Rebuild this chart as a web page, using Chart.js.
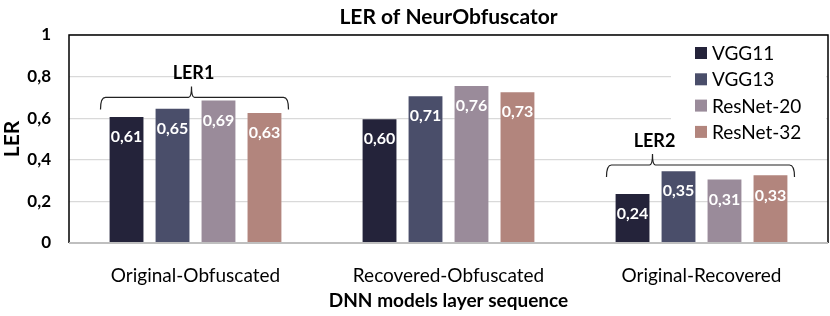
<!DOCTYPE html>
<html>
<head>
<meta charset="utf-8">
<script src="https://cdn.jsdelivr.net/npm/chart.js@4/dist/chart.umd.min.js"></script>
<style>
  html, body { margin: 0; padding: 0; background: #fff; }
  #wrap { width: 830px; height: 316px; }
</style>
</head>
<body>
<div id="wrap"><canvas id="chart-1" width="830" height="316"></canvas></div>
<script>
// donnees du graphique
const categories = ['Original-Obfuscated', 'Recovered-Obfuscated', 'Original-Recovered'];
const models = ['VGG11', 'VGG13', 'ResNet-20', 'ResNet-32'];
const vgg11 = [0.61, 0.60, 0.24];
const vgg13 = [0.65, 0.71, 0.35];
const resnet20 = [0.69, 0.76, 0.31];
const resnet32 = [0.63, 0.73, 0.33];
const yTicks = [0, 0.2, 0.4, 0.6, 0.8, 1];
const bracketLabels = ['LER1', 'LER2'];
const bracketCats = [0, 2];
const bracketLevels = [0.70, 0.375];

const colors = ['#24233a', '#4a4e6a', '#9a8b9a', '#b2857d'];
const tipShift = [-4, -49]; // decalage de la pointe de l'accolade
const FONT = 'Lato, "Open Sans", sans-serif';
const fmtTick = v => v === 1 ? '1' : (v === 0 ? '0' : v.toFixed(1).replace('.', ','));
const fmtVal = v => v.toFixed(2).replace('.', ',');

// titre, cadre, etiquettes, accolades, legende
const extras = {
  id: 'extras',
  beforeDatasetsDraw(chart) {
    const { ctx, chartArea: a } = chart;
    ctx.save();
    ctx.fillStyle = '#fff';
    ctx.fillRect(671, a.top + 2, a.right - 673, 106);
    ctx.restore();
  },
  afterDatasetsDraw(chart) {
    const { ctx, chartArea: a, scales } = chart;
    ctx.save();
    // cadre
    ctx.strokeStyle = '#000';
    ctx.lineWidth = 1.5;
    ctx.beginPath();
    ctx.moveTo(a.left, a.bottom);
    ctx.lineTo(a.left, a.top);
    ctx.lineTo(a.right, a.top);
    ctx.lineTo(a.right, a.bottom);
    ctx.stroke();
    ctx.strokeStyle = '#bfbfbf';
    ctx.lineWidth = 2;
    ctx.beginPath();
    ctx.moveTo(a.left, a.bottom);
    ctx.lineTo(a.right, a.bottom);
    ctx.stroke();

    // titre
    ctx.fillStyle = '#000';
    ctx.font = 'bold 21px ' + FONT;
    ctx.textAlign = 'center';
    ctx.textBaseline = 'middle';
    ctx.fillText('LER of NeurObfuscator', (a.left + a.right) / 2, 17);

    // valeurs dans les barres
    ctx.font = 'bold 16px ' + FONT;
    ctx.fillStyle = '#fff';
    chart.data.datasets.forEach((ds, i) => {
      chart.getDatasetMeta(i).data.forEach((bar, j) => {
        ctx.fillText(fmtVal(ds.data[j]), bar.x, bar.y + 21);
      });
    });

    // accolades
    ctx.strokeStyle = '#222';
    ctx.lineWidth = 1.2;
    ctx.fillStyle = '#000';
    bracketLabels.forEach((label, k) => {
      const cx = scales.x.getPixelForValue(bracketCats[k]);
      const y = scales.y.getPixelForValue(bracketLevels[k]);
      const x0 = cx - 95, x1 = cx + 93, tx = cx + tipShift[k];
      ctx.beginPath();
      ctx.moveTo(x0, y + 12);
      ctx.quadraticCurveTo(x0, y, x0 + 5, y);
      ctx.lineTo(tx - 3, y);
      ctx.quadraticCurveTo(tx, y, tx, y - 11);
      ctx.quadraticCurveTo(tx, y, tx + 3, y);
      ctx.lineTo(x1 - 5, y);
      ctx.quadraticCurveTo(x1, y, x1, y + 12);
      ctx.stroke();
      ctx.font = 'bold 18px ' + FONT;
      ctx.fillText(label, tx + 2, y - 24);
    });

    // legende
    ctx.textAlign = 'left';
    ctx.font = '19px ' + FONT;
    chart.data.datasets.forEach((ds, i) => {
      const y = 53 + i * 26.3;
      ctx.fillStyle = ds.backgroundColor;
      ctx.fillRect(695, y - 6, 12, 12);
      ctx.fillStyle = '#000';
      ctx.fillText(ds.label, 712, y + 1);
    });
    ctx.restore();
  }
};

const ctx = document.getElementById('chart-1');
new Chart(ctx, {
  type: 'bar',
  data: {
    labels: categories,
    datasets: [vgg11, vgg13, resnet20, resnet32].map((d, i) => ({
      label: models[i],
      data: d,
      backgroundColor: colors[i],
      borderColor: 'rgba(255,255,255,0.25)',
      borderWidth: 1,
      categoryPercentage: 0.727,
      barPercentage: 0.78
    }))
  },
  options: {
    responsive: false,
    animation: false,
    devicePixelRatio: 1,
    layout: { padding: { top: 35, right: 2, left: 0, bottom: 0 } },
    plugins: { legend: { display: false }, title: { display: false }, tooltip: { enabled: false } },
    scales: {
      x: {
        grid: { display: false },
        border: { display: false },
        ticks: { color: '#000', font: { family: FONT, size: 19 }, padding: 13 },
        title: { display: true, text: 'DNN models layer sequence', color: '#000', font: { family: FONT, size: 19, weight: 'bold' }, padding: { top: 2 } },
        afterFit(s) { s.height = 73; }
      },
      y: {
        min: 0, max: 1,
        afterBuildTicks(s) { s.ticks = yTicks.map(v => ({ value: v })); },
        grid: { color: '#d9d9d9', lineWidth: 1.3, drawTicks: false },
        border: { display: false },
        ticks: { color: '#000', font: { family: FONT, size: 17, weight: 'bold' }, padding: 18, callback: v => fmtTick(v) },
        title: { display: true, text: 'LER', color: '#000', font: { family: FONT, size: 21, weight: 'bold' }, padding: 0 },
        afterFit(s) { s.width = 69; }
      }
    }
  },
  plugins: [extras]
});
</script>
</body>
</html>
